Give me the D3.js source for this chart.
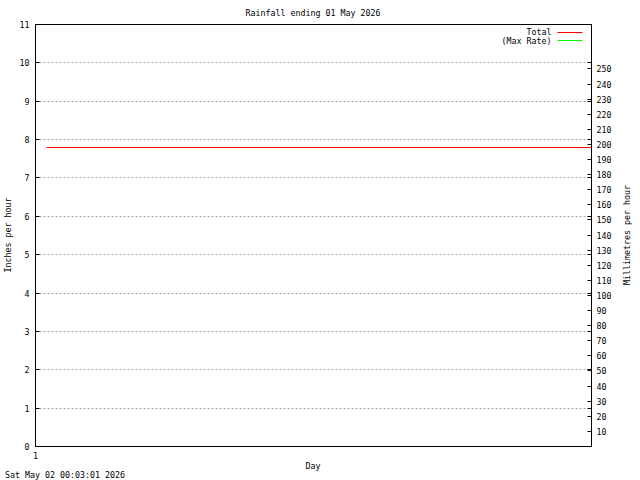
<!DOCTYPE html>
<html>
<head>
<meta charset="utf-8">
<script src="https://cdn.jsdelivr.net/npm/d3@7"></script>
<style>
  body { margin: 0; background: #fff; }
  text { font-family: "DejaVu Sans Mono", monospace; font-size: 8.3px; fill: #000; }
</style>
</head>
<body>
<div id="chart"></div>
<script>
const width = 640,
height = 480,
margin = { top: 24, right: 49, bottom: 34, left: 35 };

// data
const title = 'Rainfall ending 01 May 2026';
const stamp = 'Sat May 02 00:03:01 2026';
const inchTicks = [0, 1, 2, 3, 4, 5, 6, 7, 8, 9, 10, 11];
const mmTicks = [10, 20, 30, 40, 50, 60, 70, 80, 90, 100, 110, 120, 130, 140, 150, 160, 170, 180, 190, 200, 210, 220, 230, 240, 250];
const dayTicks = [1];
const totalDays = [1.02, 2];
const totalInches = [7.79, 7.79];
const maxRateDays = [];
const maxRateInches = [];

const w = width - margin.left - margin.right,
h = height - margin.top - margin.bottom;

const svg = d3.select('#chart').
append('svg').
attr('width', width).
attr('height', height);

const g = svg.append('g').
attr('transform', `translate(${margin.left + 0.5},${margin.top + 0.5})`);

const x = d3.scaleLinear().domain([1, 2]).range([0, w]);
const y = d3.scaleLinear().domain([0, 11]).range([h, 0]);
const yMm = d3.scaleLinear().domain([0, 11 * 25.4]).range([h, 0]);

// grid
g.selectAll('.grid').
data(inchTicks.filter(d => d > 0 && d < 11)).
enter().
append('line').
attr('x1', 0).
attr('x2', w).
attr('y1', d => Math.round(y(d))).
attr('y2', d => Math.round(y(d))).
attr('stroke', '#a0a0a0').
attr('stroke-dasharray', '2,2');

// left ticks (mirrored on the right border)
g.selectAll('.ltick').
data(inchTicks).
enter().
append('path').
attr('d', d => `M0,${Math.round(y(d))}h4M${w},${Math.round(y(d))}h-4`).
attr('stroke', '#000');

g.selectAll('.llab').
data(inchTicks).
enter().
append('text').
attr('x', -6).
attr('y', d => Math.round(y(d)) + 3).
attr('text-anchor', 'end').
text(d => d);

// right mm ticks
g.selectAll('.rtick').
data(mmTicks).
enter().
append('path').
attr('d', d => `M${w},${Math.round(yMm(d))}h-4`).
attr('stroke', '#000');

g.selectAll('.rlab').
data(mmTicks).
enter().
append('text').
attr('x', w + 5).
attr('y', d => Math.round(yMm(d)) + 3).
text(d => d);

// x ticks
g.selectAll('.xlab').
data(dayTicks).
enter().
append('text').
attr('x', d => x(d)).
attr('y', h + 12).
attr('text-anchor', 'middle').
text(d => d);

// series
const line = d3.line().x(d => x(d[0])).y(d => Math.round(y(d[1])));

g.append('path').
datum(d3.zip(maxRateDays, maxRateInches)).
attr('d', line).
attr('fill', 'none').
attr('stroke', '#00ff00');

g.append('path').
datum(d3.zip(totalDays, totalInches)).
attr('d', line).
attr('fill', 'none').
attr('stroke', '#ff0000');

// border
g.append('rect').
attr('width', w).
attr('height', h).
attr('fill', 'none').
attr('stroke', '#000');

// legend
const legend = g.append('g');
[['Total', '#ff0000'], ['(Max Rate)', '#00ff00']].forEach((d, i) => {
  legend.append('text').
  attr('x', 516).
  attr('y', 10.5 + i * 9).
  attr('text-anchor', 'end').
  text(d[0]);
  legend.append('line').
  attr('x1', 522).
  attr('x2', 547).
  attr('y1', 8 + i * 8).
  attr('y2', 8 + i * 8).
  attr('stroke', d[1]);
});

// titles
svg.append('text').
attr('x', 313).
attr('y', 16).
attr('text-anchor', 'middle').
text(title);

svg.append('text').
attr('x', 313).
attr('y', 469).
attr('text-anchor', 'middle').
text('Day');

svg.append('text').
attr('transform', 'translate(11,235) rotate(-90)').
attr('text-anchor', 'middle').
text('Inches per hour');

svg.append('text').
attr('transform', 'translate(630,235) rotate(-90)').
attr('text-anchor', 'middle').
text('Millimetres per hour');

svg.append('text').
attr('x', 5).
attr('y', 478).
text(stamp);
</script>
</body>
</html>
